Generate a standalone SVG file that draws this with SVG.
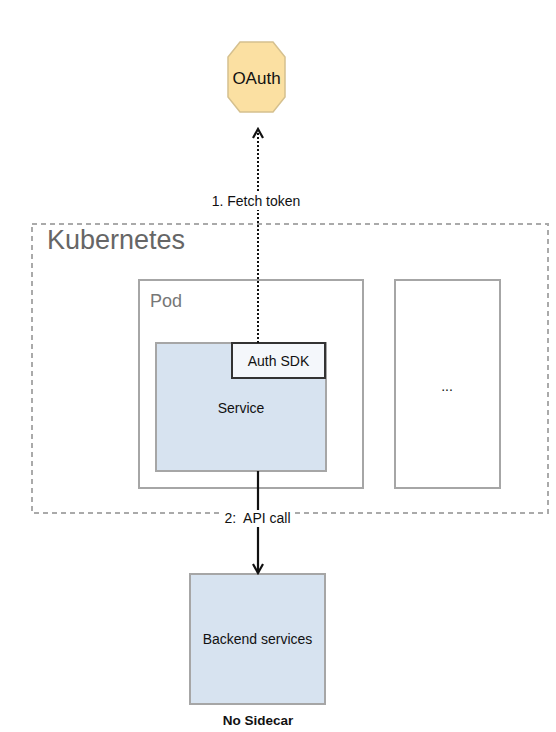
<svg xmlns="http://www.w3.org/2000/svg" width="556" height="732" viewBox="0 0 556 732">
<defs>
<style>
text{font-family:"Liberation Sans",Arial,sans-serif;fill:#111;}
.box{fill:#fff;stroke:#a6a6a6;stroke-width:2;}
.svc{fill:#d7e3f0;stroke:#a6a6a6;stroke-width:2;}
.lbl{font-size:14px;text-anchor:middle;}
</style>
<marker id="ah" viewBox="0 0 12 12" refX="10" refY="6" markerWidth="12" markerHeight="12" markerUnits="userSpaceOnUse" orient="auto">
<path d="M1,1 L10,6 L1,11" fill="none" stroke="#111" stroke-width="2.2"/>
</marker>
</defs>
<rect width="556" height="732" fill="#fff"/>
<g id="kubernetes">
<rect x="32" y="224" width="516" height="289" fill="none" stroke="#aaa" stroke-width="2" stroke-dasharray="5 4"/>
<text x="47" y="249" style="font-size:27px;fill:#666">Kubernetes</text>
</g>
<g id="pod">
<rect class="box" x="139" y="280" width="224" height="208"/>
<text x="150" y="307" style="font-size:18px;fill:#777">Pod</text>
</g>
<g id="other">
<rect class="box" x="395" y="280" width="105" height="208"/>
<text class="lbl" x="447" y="391">...</text>
</g>
<g id="service">
<rect class="svc" x="156" y="343" width="170" height="128"/>
<text class="lbl" x="241" y="413">Service</text>
</g>
<g id="authsdk">
<rect x="232" y="343" width="93" height="35" fill="#f4f7fb" stroke="#333" stroke-width="2"/>
<text class="lbl" x="278.5" y="366">Auth SDK</text>
</g>
<g id="oauth">
<polygon points="240,42 273,42 285,57 285,97 273,112 240,112 228,97 228,57" fill="#fbe0a2" stroke="#d5c08e" stroke-width="1.5"/>
<text x="256.5" y="84" style="font-size:17px;text-anchor:middle">OAuth</text>
</g>
<g id="backend">
<rect class="svc" x="190" y="574" width="135" height="130"/>
<text class="lbl" x="257.5" y="644">Backend services</text>
</g>
<g id="connectors">
<line x1="258" y1="343" x2="258" y2="129" stroke="#111" stroke-width="2" stroke-dasharray="2 2" marker-end="url(#ah)"/>
<rect x="208" y="193" width="100" height="17" fill="#fff"/>
<text class="lbl" x="256" y="206">1. Fetch token</text>
<line x1="258" y1="471" x2="258" y2="573" stroke="#111" stroke-width="2.2" marker-end="url(#ah)"/>
<rect x="222" y="510" width="72" height="17" fill="#fff"/>
<text class="lbl" x="257.5" y="523" xml:space="preserve">2:  API call</text>
</g>
<text x="258" y="725" style="font-size:13.5px;font-weight:bold;text-anchor:middle">No Sidecar</text>
</svg>
